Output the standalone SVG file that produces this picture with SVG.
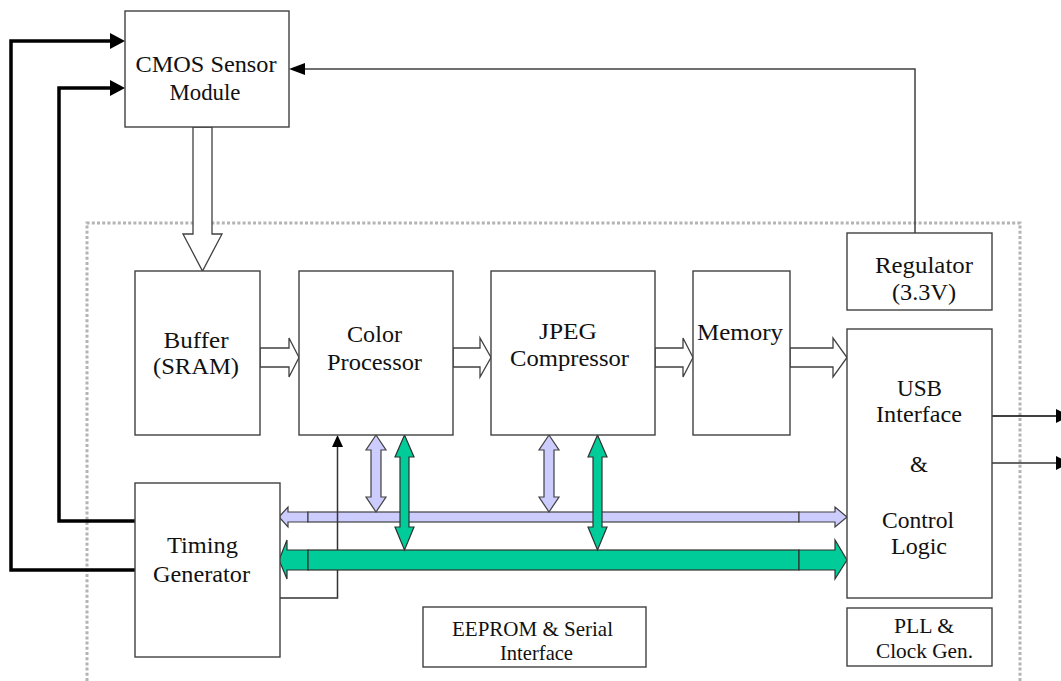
<svg xmlns="http://www.w3.org/2000/svg" width="1061" height="681" viewBox="0 0 1061 681">
<style>
.box{fill:#fff;stroke:#404040;stroke-width:1.4}
.t{font-size:23px;fill:#111;text-anchor:middle}
.ts{font-size:21px}
.hollow{fill:#fff;stroke:#404040;stroke-width:1.3}
.lav{fill:#ccccff;stroke:#404040;stroke-width:1.2}
.grn{fill:#00cc99;stroke:#303030;stroke-width:1.2}
.thick{fill:none;stroke:#000;stroke-width:3.5}
.thin{fill:none;stroke:#404040;stroke-width:1.5}
.head{fill:#000}
.dot{fill:none;stroke:#b4b4b4;stroke-width:3;stroke-dasharray:3 2.2}
</style>
<rect width="1061" height="681" fill="#fff"/>
<path class="dot" d="M87,681 V223 H1020 V681"/>
<g id="connectors">
<path class="thick" d="M135,570 H11 V41 H111"/>
<polygon class="head" points="110,33 125,41 110,49"/>
<path class="thick" d="M135,521 H59 V88 H111"/>
<polygon class="head" points="110,80 125,88 110,96"/>
<path class="thin" d="M915,233 V69 H304"/>
<polygon class="head" points="305,63 289,69 305,75"/>
<polygon class="hollow" points="193,127 193,234 183,234 202.5,271 222,234 212,234 212,127"/>
<polygon class="hollow" points="260,348 289,348 289,338 299,357.5 289,377 289,367 260,367"/>
<polygon class="hollow" points="453,348 480,348 480,338 491,357.5 480,377 480,367 453,367"/>
<polygon class="hollow" points="655,348 683,348 683,338 693,357.5 683,377 683,367 655,367"/>
<polygon class="hollow" points="790,348 833,348 833,338 847,357.5 833,377 833,367 790,367"/>
<polygon class="lav" points="279,517 288,507 288,512 308,512 308,522 288,522 288,527"/>
<rect class="lav" x="308" y="512" width="491" height="10"/>
<polygon class="lav" points="799,512 835,512 835,507 847,517 835,527 835,522 799,522"/>
<polygon class="lav" points="376,435 386,450 381,450 381,497 386,497 376,512 366,497 371,497 371,450 366,450"/>
<polygon class="lav" points="549,435 559,450 554,450 554,497 559,497 549,512 539,497 544,497 544,450 539,450"/>
<path class="thin" d="M280,598 H337.5 V446" style="stroke:#333"/>
<polygon class="head" points="332,447 337.5,435 343,447"/>
<polygon class="grn" points="279,560 287,540 287,550 308,550 308,570 287,570 287,579"/>
<rect class="grn" x="308" y="550" width="491" height="20"/>
<polygon class="grn" points="799,550 835,550 835,540 847,560 835,579 835,570 799,570"/>
<polygon class="grn" points="404.5,435 414,457 409,457 409,527 414,527 404.5,550 395,527 400,527 400,457 395,457"/>
<polygon class="grn" points="597.5,435 607,457 602,457 602,527 607,527 597.5,550 588,527 593,527 593,457 588,457"/>
<path class="thin" d="M992,416 H1057" style="stroke:#000"/>
<polygon class="head" points="1056,409 1070,416 1056,423"/>
<path class="thin" d="M992,463 H1057" style="stroke:#333"/>
<polygon class="head" points="1056,456 1070,463 1056,470"/>
</g>
<g font-family="'Liberation Serif', Tinos, 'DejaVu Serif', 'Noto Serif', FreeSerif, 'Times New Roman', Times, serif">
<g id="cmos">
<rect class="box" x="125" y="11" width="164" height="116"/>
<text class="t" x="206" y="72" textLength="141" lengthAdjust="spacingAndGlyphs">CMOS Sensor</text>
<text class="t" x="205" y="100" textLength="71" lengthAdjust="spacingAndGlyphs">Module</text>
</g>
<g id="buffer">
<rect class="box" x="135" y="271" width="125" height="164"/>
<text class="t" x="196" y="348" textLength="65" lengthAdjust="spacingAndGlyphs">Buffer</text>
<text class="t" x="196" y="374" textLength="86" lengthAdjust="spacingAndGlyphs">(SRAM)</text>
</g>
<g id="color">
<rect class="box" x="299" y="271" width="154" height="164"/>
<text class="t" x="374.5" y="342" textLength="55" lengthAdjust="spacingAndGlyphs">Color</text>
<text class="t" x="374.5" y="370" textLength="95" lengthAdjust="spacingAndGlyphs">Processor</text>
</g>
<g id="jpeg">
<rect class="box" x="491" y="271" width="164" height="164"/>
<text class="t" x="568" y="339" textLength="58" lengthAdjust="spacingAndGlyphs">JPEG</text>
<text class="t" x="569.5" y="366" textLength="119" lengthAdjust="spacingAndGlyphs">Compressor</text>
</g>
<g id="memory">
<rect class="box" x="693" y="271" width="97" height="164"/>
<text class="t" x="740" y="340" textLength="86" lengthAdjust="spacingAndGlyphs">Memory</text>
</g>
<g id="regulator">
<rect class="box" x="847" y="233" width="145" height="77"/>
<text class="t" x="924" y="273" textLength="98" lengthAdjust="spacingAndGlyphs">Regulator</text>
<text class="t" x="924" y="300" textLength="64" lengthAdjust="spacingAndGlyphs">(3.3V)</text>
</g>
<g id="usb">
<rect class="box" x="847" y="329" width="145" height="269"/>
<text class="t" x="919.5" y="396" textLength="45" lengthAdjust="spacingAndGlyphs">USB</text>
<text class="t" x="919" y="422" textLength="86" lengthAdjust="spacingAndGlyphs">Interface</text>
<text class="t" x="919" y="472">&amp;</text>
<text class="t" x="918" y="528" textLength="72" lengthAdjust="spacingAndGlyphs">Control</text>
<text class="t" x="919" y="554" textLength="56" lengthAdjust="spacingAndGlyphs">Logic</text>
</g>
<g id="pll">
<rect class="box" x="847" y="608" width="145" height="58"/>
<text class="t ts" x="924" y="633" textLength="60" lengthAdjust="spacingAndGlyphs">PLL &amp;</text>
<text class="t ts" x="924.5" y="658" textLength="97" lengthAdjust="spacingAndGlyphs">Clock Gen.</text>
</g>
<g id="timing">
<rect class="box" x="135" y="483" width="145" height="174"/>
<text class="t" x="202.5" y="553" textLength="71" lengthAdjust="spacingAndGlyphs">Timing</text>
<text class="t" x="201.5" y="582" textLength="97" lengthAdjust="spacingAndGlyphs">Generator</text>
</g>
<g id="eeprom">
<rect class="box" x="423" y="607" width="223" height="60"/>
<text class="t ts" x="532.5" y="636" textLength="161" lengthAdjust="spacingAndGlyphs">EEPROM &amp; Serial</text>
<text class="t ts" x="536.5" y="660" textLength="73" lengthAdjust="spacingAndGlyphs">Interface</text>
</g>
</g>
</svg>
